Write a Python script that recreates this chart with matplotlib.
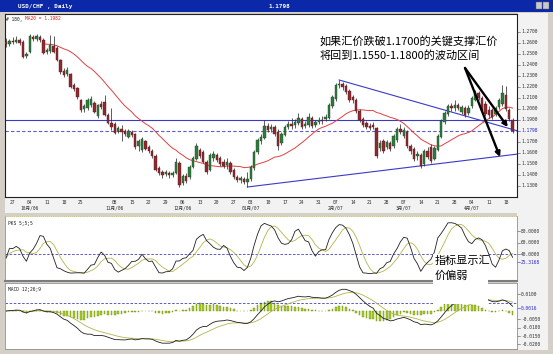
import numpy as np
import pandas as pd
import matplotlib
matplotlib.use("Agg")
import matplotlib.pyplot as plt
from matplotlib.patches import Rectangle
from matplotlib.lines import Line2D
from matplotlib.transforms import blended_transform_factory

plt.rcParams['font.family'] = ['Noto Sans CJK SC', 'DejaVu Sans']

W, H = 553, 354

# ---------------- data (USD/CHF daily) ----------------
opens = [1.2606, 1.2588, 1.2615, 1.2606, 1.2624, 1.2606, 1.2479, 1.2515, 1.2652, 1.2634,
         1.2652, 1.2624, 1.2515, 1.2524, 1.2570, 1.2552, 1.2442, 1.2343, 1.2315, 1.2315,
         1.2215, 1.2188, 1.2079, 1.1997, 1.2006, 1.2033, 1.2052, 1.1933, 1.2043, 1.2061,
         1.1943, 1.1870, 1.1861, 1.1797, 1.1815, 1.1797, 1.1743, 1.1788, 1.1770, 1.1661,
         1.1624, 1.1706, 1.1652, 1.1615, 1.1570, 1.1461, 1.1424, 1.1406, 1.1415, 1.1397,
         1.1415, 1.1506, 1.1324, 1.1388, 1.1379, 1.1470, 1.1543, 1.1624, 1.1606, 1.1515,
         1.1442, 1.1552, 1.1579, 1.1552, 1.1515, 1.1488, 1.1506, 1.1442, 1.1379, 1.1352,
         1.1361, 1.1333, 1.1361, 1.1461, 1.1606, 1.1706, 1.1733, 1.1843, 1.1815, 1.1833,
         1.1788, 1.1688, 1.1761, 1.1833, 1.1861, 1.1852, 1.1870, 1.1906, 1.1843, 1.1852,
         1.1915, 1.1852, 1.1879, 1.1897, 1.1906, 1.1915, 1.2024, 1.2088, 1.2215, 1.2224,
         1.2206, 1.2161, 1.2106, 1.2079, 1.1979, 1.1906, 1.1870, 1.1843, 1.1852, 1.1824,
         1.1643, 1.1706, 1.1652, 1.1688, 1.1661, 1.1715, 1.1815, 1.1752, 1.1788, 1.1661,
         1.1633, 1.1570, 1.1579, 1.1497, 1.1615, 1.1652, 1.1543, 1.1624, 1.1743, 1.1879,
         1.1952, 1.2024, 1.2006, 1.2033, 1.1970, 1.2006, 1.1961, 1.2024, 1.2079, 1.2143,
         1.2097, 1.2043, 1.1988, 1.1988, 1.1952, 1.2015, 1.2043, 1.2124, 1.1988, 1.1897]
highs = [1.2643, 1.2634, 1.2652, 1.2661, 1.2643, 1.2624, 1.2515, 1.2679, 1.2670, 1.2679,
         1.2670, 1.2643, 1.2552, 1.2670, 1.2661, 1.2570, 1.2452, 1.2370, 1.2379, 1.2324,
         1.2233, 1.2197, 1.2088, 1.2043, 1.2097, 1.2115, 1.2070, 1.2043, 1.2070, 1.2124,
         1.1961, 1.2006, 1.1879, 1.1843, 1.1852, 1.1815, 1.1815, 1.1806, 1.1779, 1.1724,
         1.1743, 1.1715, 1.1670, 1.1633, 1.1588, 1.1479, 1.1442, 1.1442, 1.1433, 1.1433,
         1.1552, 1.1524, 1.1406, 1.1415, 1.1488, 1.1570, 1.1688, 1.1643, 1.1624, 1.1533,
         1.1597, 1.1615, 1.1597, 1.1570, 1.1543, 1.1552, 1.1524, 1.1461, 1.1397, 1.1388,
         1.1379, 1.1424, 1.1488, 1.1624, 1.1733, 1.1770, 1.1897, 1.1870, 1.1861, 1.1852,
         1.1815, 1.1788, 1.1852, 1.1888, 1.1915, 1.1906, 1.1961, 1.1924, 1.1888, 1.1961,
         1.1933, 1.1897, 1.1924, 1.1933, 1.1952, 1.2052, 1.2124, 1.2233, 1.2261, 1.2243,
         1.2224, 1.2179, 1.2124, 1.2097, 1.1997, 1.1924, 1.1888, 1.1870, 1.1879, 1.1833,
         1.1715, 1.1724, 1.1715, 1.1706, 1.1770, 1.1833, 1.1861, 1.1833, 1.1806, 1.1679,
         1.1652, 1.1615, 1.1597, 1.1633, 1.1652, 1.1679, 1.1661, 1.1770, 1.1906, 1.1979,
         1.2043, 1.2052, 1.2079, 1.2052, 1.2033, 1.2024, 1.2033, 1.2115, 1.2170, 1.2161,
         1.2115, 1.2070, 1.2024, 1.2006, 1.2024, 1.2097, 1.2215, 1.2206, 1.2006, 1.1915]
lows = [1.2561, 1.2570, 1.2588, 1.2597, 1.2579, 1.2461, 1.2461, 1.2506, 1.2615, 1.2615,
        1.2606, 1.2497, 1.2497, 1.2506, 1.2506, 1.2433, 1.2315, 1.2288, 1.2297, 1.2188,
        1.2161, 1.2088, 1.1970, 1.1970, 1.1988, 1.2015, 1.1961, 1.1915, 1.1997, 1.1933,
        1.1861, 1.1806, 1.1770, 1.1779, 1.1706, 1.1752, 1.1733, 1.1743, 1.1633, 1.1615,
        1.1606, 1.1624, 1.1597, 1.1552, 1.1433, 1.1397, 1.1370, 1.1388, 1.1370, 1.1379,
        1.1406, 1.1288, 1.1306, 1.1324, 1.1361, 1.1461, 1.1533, 1.1552, 1.1506, 1.1406,
        1.1433, 1.1524, 1.1515, 1.1479, 1.1461, 1.1452, 1.1406, 1.1361, 1.1333, 1.1324,
        1.1315, 1.1288, 1.1343, 1.1442, 1.1588, 1.1679, 1.1724, 1.1788, 1.1788, 1.1752,
        1.1624, 1.1670, 1.1752, 1.1815, 1.1815, 1.1824, 1.1852, 1.1815, 1.1824, 1.1833,
        1.1824, 1.1833, 1.1861, 1.1861, 1.1888, 1.1906, 1.2006, 1.2070, 1.2188, 1.2170,
        1.2133, 1.2061, 1.2052, 1.1961, 1.1879, 1.1833, 1.1815, 1.1806, 1.1815, 1.1552,
        1.1615, 1.1597, 1.1633, 1.1615, 1.1643, 1.1697, 1.1770, 1.1733, 1.1643, 1.1588,
        1.1524, 1.1533, 1.1461, 1.1479, 1.1543, 1.1506, 1.1533, 1.1615, 1.1733, 1.1861,
        1.1933, 1.1979, 1.1979, 1.1988, 1.1952, 1.1924, 1.1943, 1.2006, 1.2070, 1.2079,
        1.1961, 1.1933, 1.1915, 1.1906, 1.1933, 1.1997, 1.2024, 1.1979, 1.1888, 1.1779]
closes = [1.2588, 1.2615, 1.2606, 1.2624, 1.2597, 1.2470, 1.2497, 1.2661, 1.2634, 1.2661,
          1.2624, 1.2506, 1.2533, 1.2579, 1.2515, 1.2442, 1.2333, 1.2306, 1.2352, 1.2197,
          1.2179, 1.2106, 1.1988, 1.2024, 1.2079, 1.2088, 1.1970, 1.2033, 1.2015, 1.1943,
          1.1870, 1.1833, 1.1779, 1.1824, 1.1788, 1.1770, 1.1797, 1.1761, 1.1652, 1.1706,
          1.1724, 1.1633, 1.1615, 1.1570, 1.1442, 1.1415, 1.1397, 1.1424, 1.1397, 1.1415,
          1.1515, 1.1306, 1.1388, 1.1343, 1.1470, 1.1552, 1.1661, 1.1570, 1.1515, 1.1424,
          1.1579, 1.1588, 1.1533, 1.1497, 1.1479, 1.1515, 1.1424, 1.1379, 1.1352, 1.1370,
          1.1333, 1.1361, 1.1470, 1.1606, 1.1715, 1.1743, 1.1843, 1.1806, 1.1833, 1.1770,
          1.1661, 1.1770, 1.1833, 1.1861, 1.1843, 1.1879, 1.1915, 1.1833, 1.1861, 1.1924,
          1.1843, 1.1879, 1.1897, 1.1888, 1.1924, 1.2033, 1.2106, 1.2215, 1.2224, 1.2197,
          1.2152, 1.2079, 1.2079, 1.1979, 1.1897, 1.1852, 1.1833, 1.1824, 1.1833, 1.1570,
          1.1688, 1.1615, 1.1697, 1.1633, 1.1752, 1.1815, 1.1788, 1.1806, 1.1661, 1.1615,
          1.1543, 1.1588, 1.1479, 1.1615, 1.1561, 1.1524, 1.1643, 1.1752, 1.1888, 1.1961,
          1.2024, 1.2006, 1.2033, 1.2006, 1.2015, 1.1943, 1.2006, 1.2097, 1.2152, 1.2097,
          1.1979, 1.1952, 1.1943, 1.1924, 1.2006, 1.2079, 1.2143, 1.1997, 1.1906, 1.1798]

tick_idx = [2, 7, 12, 17, 22, 32, 37, 42, 47, 52, 57, 62, 67, 72, 77, 82, 87, 92, 97,
            102, 107, 112, 117, 122, 127, 132, 137, 142, 147]
tick_day = ['27', '04', '11', '18', '25', '08', '15', '22', '29', '06', '13', '20', '27', '03',
            '10', '17', '24', '31', '07', '14', '21', '28', '07', '14', '21', '28', '04', '11', '18']
tick_month = ['', '10月/06', '', '', '', '11月/06', '', '', '', '12月/06', '', '', '', '01月/07',
              '', '', '', '', '2月/07', '', '', '', '3月/07', '', '', '', '4月/07', '', '']

price_ticks = [1.27, 1.26, 1.25, 1.24, 1.23, 1.22, 1.21, 1.20, 1.19, 1.17, 1.16, 1.15, 1.14, 1.13]
last_price = 1.1798
support_level = 1.19
upper_trend_x, upper_trend_y = [98, 150.6], [1.2261, 1.1797]
lower_trend_x, lower_trend_y = [71, 150.6], [1.1288, 1.1588]
arrow_start = (135.0, 1.2370)
arrow_end1 = (147.6, 1.1833)
arrow_end2 = (145.3, 1.1561)

pks_ticks = [80, 60, 40]
pks_last = 25.3168
pks_level = 40
macd_ticks = [0.01, -0.005, -0.01, -0.015, -0.02]
macd_last = 0.0016
macd_level = 0.005

# ---------------- indicators ----------------
o = np.array(opens); hi = np.array(highs); lo = np.array(lows); c = np.array(closes)
idx = np.arange(len(c))
up = c >= o
sc, sh, sl = pd.Series(c), pd.Series(hi), pd.Series(lo)
ma20 = sc.rolling(20, min_periods=1).mean()
ll = sl.rolling(5, min_periods=1).min()
hh = sh.rolling(5, min_periods=1).max()
k_slow = 100 * (sc - ll).rolling(5, min_periods=1).sum() / (hh - ll).rolling(5, min_periods=1).sum()
d_slow = k_slow.rolling(5, min_periods=1).mean()
ema12 = sc.ewm(span=12, adjust=False).mean()
ema26 = sc.ewm(span=26, adjust=False).mean()
macd = ema12 - ema26
signal = macd.ewm(span=9, adjust=False).mean()
hist = macd - signal

# ---------------- figure ----------------
fig = plt.figure(figsize=(W / 100, H / 100), dpi=100)
fig.patch.set_facecolor('#d4d0c8')

def px_rect(x0, y0, x1, y1):
    return [x0 / W, 1 - y1 / H, (x1 - x0) / W, (y1 - y0) / H]

def fig_rect(x0, y0, x1, y1, **kw):
    fig.patches.append(Rectangle((x0 / W, 1 - y1 / H), (x1 - x0) / W, (y1 - y0) / H,
                                 transform=fig.transFigure, **kw))

def fig_hline(x0, x1, y, **kw):
    fig.lines.append(Line2D([x0 / W, x1 / W], [1 - y / H, 1 - y / H], transform=fig.transFigure, **kw))

# title bar
fig_rect(0, 0, 553, 12, facecolor='#0a28a8', edgecolor='none', zorder=-2)
fig.text(18 / W, 1 - 6.5 / H, 'USD/CHF , Daily', color='white', fontsize=4.3, fontweight='bold',
         family='DejaVu Sans Mono', va='center')
fig.text(268 / W, 1 - 6.5 / H, '1.1798', color='white', fontsize=4.3, fontweight='bold',
         family='DejaVu Sans Mono', va='center')
fig_rect(536, 2.5, 542, 9, facecolor='#c8c8c8', edgecolor='#606060', lw=0.3, zorder=-1)
fig_rect(543, 2.5, 549, 9, facecolor='#c8c8c8', edgecolor='#606060', lw=0.3, zorder=-1)

# light backgrounds
fig_rect(517, 13, 548, 350, facecolor='#f2f2f2', edgecolor='none', zorder=-2)
fig_rect(5, 197, 517, 213, facecolor='#f2f2f2', edgecolor='none', zorder=-2)

XLIM = ((5 - 6) / 3.4, (517 - 6) / 3.4)
mono = ['DejaVu Sans Mono', 'Noto Sans CJK SC']

# ---------------- price panel ----------------
ax = fig.add_axes(px_rect(5, 14, 517, 197))
ax.set_facecolor('white')
ax.set_xlim(*XLIM)
ax.set_ylim(1.1197, 1.2861)
for s in ax.spines.values():
    s.set_color('#202020'); s.set_linewidth(0.8)
ax.set_yticks([])
ax.set_xticks(tick_idx)
ax.set_xticklabels([d + ('\n' + m if m else '') for d, m in zip(tick_day, tick_month)],
                   fontsize=3.3, family=mono, color='#303030', linespacing=1.15)
ax.tick_params(axis='x', length=0, pad=2.2)

ax.axhline(support_level, color='#3a3ac8', lw=0.8, zorder=1)
ax.axhline(last_price, color='#5a5ad8', lw=0.8, ls=(0, (3, 2)), zorder=1)
ax.plot(upper_trend_x, upper_trend_y, color='#3a3ac8', lw=0.8, zorder=1)
ax.plot(lower_trend_x, lower_trend_y, color='#3a3ac8', lw=0.8, zorder=1)
ax.plot(idx[11:], ma20[11:], color='#e04040', lw=0.7, zorder=2)

ax.vlines(idx, lo, hi, color='#303030', lw=0.55, zorder=3)
ax.bar(idx[up], np.maximum(c[up] - o[up], 0.0002), bottom=o[up], width=0.74,
       color='#2f7a3c', edgecolor='#1c4a24', linewidth=0.3, zorder=4)
ax.bar(idx[~up], o[~up] - c[~up], bottom=c[~up], width=0.74,
       color='#8e2a30', edgecolor='#5a1a1e', linewidth=0.3, zorder=4)

for end in (arrow_end1, arrow_end2):
    ax.annotate('', xy=end, xytext=arrow_start,
                arrowprops=dict(arrowstyle='-|>', color='black', lw=1.7, mutation_scale=7,
                                shrinkA=0, shrinkB=0), zorder=6)

ax.text((320 - 5) / 512, 1 - (41 - 14) / 183, '如果汇价跌破1.1700的关键支撑汇价',
        transform=ax.transAxes, fontsize=8, va='center', ha='left', color='black', zorder=7)
ax.text((320 - 5) / 512, 1 - (55.5 - 14) / 183, '将回到1.1550-1.1800的波动区间',
        transform=ax.transAxes, fontsize=8, va='center', ha='left', color='black', zorder=7)

ax.text(1.5 / 512, 1 - 5 / 183, '# 180,', transform=ax.transAxes, fontsize=3.3, family=mono,
        va='center', color='#202020')
ax.text(20 / 512, 1 - 5 / 183, 'MA20 = 1.1982', transform=ax.transAxes, fontsize=3.3, family=mono,
        va='center', color='#d02020')

def right_labels(axis, values, fmt, special=None):
    tr = blended_transform_factory(axis.transAxes, axis.transData)
    for v in values:
        axis.plot([1.0, 1.0 + 3 / 512], [v, v], transform=tr, clip_on=False, color='#505050', lw=0.4)
        axis.text(1.0 + 4 / 512, v, fmt.format(v), transform=tr, fontsize=3.3, family=mono,
                  va='center', ha='left', color='#303030', clip_on=False)
    if special is not None:
        axis.plot([1.0, 1.0 + 3 / 512], [special, special], transform=tr, clip_on=False,
                  color='#3030c0', lw=0.4)
        axis.text(1.0 + 4 / 512, special, fmt.format(special), transform=tr, fontsize=3.3,
                  family=mono, va='center', ha='left', color='#2828c8', clip_on=False)

right_labels(ax, price_ticks, '{:.4f}', last_price)

# ---------------- PKS panel ----------------
axk = fig.add_axes(px_rect(5, 216, 517, 280))
axk.set_facecolor('white')
axk.set_xlim(*XLIM)
axk.set_ylim(-5.2, 106.1)
axk.set_xticks([]); axk.set_yticks([])
for s in axk.spines.values():
    s.set_color('#909090'); s.set_linewidth(0.6)
axk.spines['top'].set_color('#c0c070'); axk.spines['top'].set_linestyle((0, (1, 1.5)))
axk.axhline(pks_level, color='#4040c8', lw=0.6, ls=(0, (3, 2)))
axk.plot(idx, d_slow, color='#b4b44c', lw=0.6)
axk.plot(idx, k_slow, color='#202020', lw=0.6)
axk.text(3 / 512, 1 - 7 / 64, 'PKS 5;5;5', transform=axk.transAxes, fontsize=3.3, family=mono,
         va='center', color='#202020')
right_labels(axk, pks_ticks, '{:.4f}', pks_last)

# ---------------- MACD panel ----------------
axm = fig.add_axes(px_rect(5, 283, 517, 349))
axm.set_facecolor('white')
axm.set_xlim(*XLIM)
axm.set_ylim(-0.0228, 0.0168)
axm.set_xticks([]); axm.set_yticks([])
for s in axm.spines.values():
    s.set_color('#909090'); s.set_linewidth(0.6)
axm.axhline(macd_level, color='#4040c8', lw=0.6, ls=(0, (3, 2)))
axm.bar(idx, hist, width=0.5, color='#a6d020', edgecolor='#6f8a10', linewidth=0.3)
axm.plot(idx, signal, color='#b4b44c', lw=0.6)
axm.plot(idx, macd, color='#202020', lw=0.6)
axm.text(3 / 512, 1 - 7 / 66, 'MACD 12;26;9', transform=axm.transAxes, fontsize=3.3, family=mono,
         va='center', color='#202020')
right_labels(axm, macd_ticks, '{:.4f}', macd_last)

# separator between indicator panels
fig_hline(5, 517, 281.2, color='#7c7c7c', lw=1.5, zorder=5)

# annotation box in indicator area
fig_rect(433, 254, 488, 304, facecolor='white', edgecolor='none', zorder=10)
fig.text(435 / W, 1 - 261 / H, '指标显示汇', fontsize=8, va='center', ha='left', zorder=11)
fig.text(435 / W, 1 - 276 / H, '价偏弱', fontsize=8, va='center', ha='left', zorder=11)

fig.savefig('out.png', dpi=100, facecolor=fig.get_facecolor())
